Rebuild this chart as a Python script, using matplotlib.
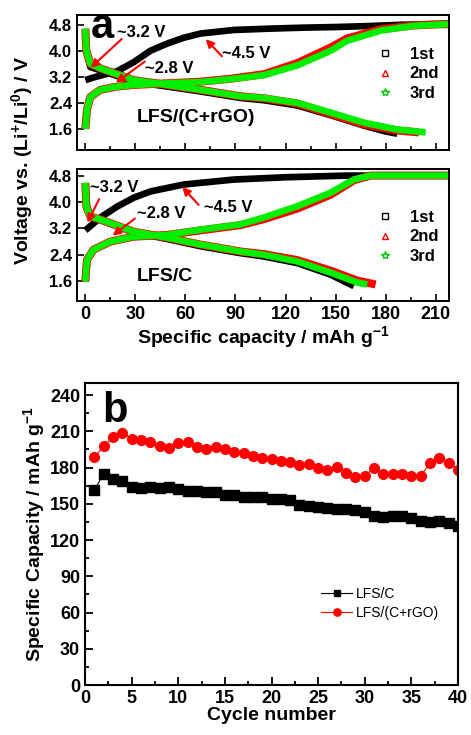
import matplotlib
matplotlib.use("Agg")
import matplotlib.pyplot as plt
from matplotlib.ticker import MultipleLocator
from matplotlib.lines import Line2D

plt.rcParams['font.family'] = ['Liberation Sans', 'DejaVu Sans']
plt.rcParams['mathtext.fontset'] = 'custom'
plt.rcParams['mathtext.rm'] = 'Liberation Sans:bold'
plt.rcParams['mathtext.bf'] = 'Liberation Sans:bold'
plt.rcParams['mathtext.default'] = 'bf'

# ---------------- Panel a data: LFS/(C+rGO) ----------------
rgo_ch1_cap = [0, 5, 10, 19, 29, 39, 49, 59, 69, 89, 110, 130, 150, 170, 190, 210, 218]
rgo_ch1_v = [3.1, 3.18, 3.25, 3.37, 3.65, 4.0, 4.22, 4.4, 4.53, 4.64, 4.68, 4.71, 4.73, 4.76, 4.8, 4.82, 4.83]
rgo_dis1_cap = [0, 1, 3, 9, 29, 49, 69, 93, 107, 127, 147, 167, 180, 187]
rgo_dis1_v = [4.6, 3.9, 3.5, 3.4, 3.05, 2.9, 2.75, 2.55, 2.48, 2.32, 2.02, 1.7, 1.52, 1.45]
rgo_ch2_cap = [0, 0.5, 1, 3, 9, 19, 29, 49, 69, 87, 107, 127, 147, 157, 177, 197, 210, 218]
rgo_ch2_v = [1.6, 1.9, 2.2, 2.58, 2.8, 2.9, 2.95, 3.0, 3.05, 3.14, 3.28, 3.62, 4.1, 4.38, 4.66, 4.78, 4.81, 4.82]
rgo_dis2_cap = [0, 0.6, 3, 9, 29, 49, 69, 93, 107, 127, 147, 167, 187, 200]
rgo_dis2_v = [4.68, 4.0, 3.6, 3.46, 3.1, 2.95, 2.8, 2.6, 2.54, 2.38, 2.06, 1.74, 1.55, 1.49]
rgo_ch3_cap = [0, 0.5, 1, 3, 9, 19, 29, 49, 69, 87, 107, 127, 147, 157, 177, 197, 210, 218]
rgo_ch3_v = [1.6, 1.9, 2.2, 2.58, 2.8, 2.9, 2.95, 3.0, 3.04, 3.13, 3.25, 3.55, 4.0, 4.31, 4.62, 4.77, 4.8, 4.82]
rgo_dis3_cap = [0, 0.6, 3, 9, 29, 49, 69, 93, 107, 127, 147, 167, 187, 204]
rgo_dis3_v = [4.68, 4.0, 3.6, 3.46, 3.1, 2.95, 2.8, 2.6, 2.55, 2.4, 2.1, 1.79, 1.58, 1.49]

# ---------------- Panel a data: LFS/C ----------------
c_ch1_cap = [0, 9, 19, 29, 39, 59, 89, 120, 157, 218]
c_ch1_v = [3.14, 3.53, 3.86, 4.13, 4.32, 4.53, 4.68, 4.75, 4.8, 4.8]
c_dis1_cap = [0, 1, 3, 9, 29, 49, 69, 93, 107, 127, 147, 161]
c_dis1_v = [4.55, 3.85, 3.55, 3.45, 3.08, 2.88, 2.66, 2.45, 2.35, 2.15, 1.8, 1.45]
c_ch2_cap = [0, 0.5, 1, 5, 15, 29, 49, 69, 93, 107, 127, 147, 161, 171, 218]
c_ch2_v = [1.59, 1.95, 2.25, 2.56, 2.8, 2.95, 3.0, 3.14, 3.3, 3.48, 3.8, 4.22, 4.66, 4.8, 4.8]
c_dis2_cap = [0, 0.6, 3, 9, 29, 49, 69, 93, 107, 127, 147, 163, 174]
c_dis2_v = [4.58, 3.86, 3.56, 3.47, 3.1, 2.92, 2.71, 2.5, 2.42, 2.24, 1.92, 1.62, 1.5]
c_ch3_cap = [0, 0.5, 1, 5, 15, 29, 49, 69, 93, 107, 127, 147, 161, 171, 218]
c_ch3_v = [1.59, 1.95, 2.25, 2.56, 2.8, 2.95, 3.0, 3.16, 3.32, 3.53, 3.87, 4.28, 4.68, 4.8, 4.8]
c_dis3_cap = [0, 0.6, 3, 9, 29, 49, 69, 93, 107, 127, 147, 163, 169]
c_dis3_v = [4.58, 3.86, 3.56, 3.47, 3.1, 2.92, 2.71, 2.5, 2.4, 2.2, 1.86, 1.56, 1.5]

cycle_labels = ['1st', '2nd', '3rd']
a_xticks = [0, 30, 60, 90, 120, 150, 180, 210]
a_yticks = [1.6, 2.4, 3.2, 4.0, 4.8]

# ---------------- Panel b data ----------------
cycles = list(range(1, 41))
cap_c = [161.4, 174.7, 170.2, 168.9, 164.0, 163.3, 163.5, 163.3, 163.5, 162.3,
         160.3, 161.0, 160.0, 159.5, 157.6, 157.0, 155.4, 155.7, 155.7, 154.0,
         154.0, 153.0, 149.3, 148.2, 147.0, 146.2, 146.0, 145.4, 145.2, 143.5,
         140.0, 139.4, 140.0, 140.3, 138.2, 136.0, 134.7, 136.0, 133.8, 131.6]
cap_rgo = [188.5, 197.8, 205.0, 209.0, 204.0, 203.0, 201.0, 198.0, 196.0, 200.0,
           201.0, 197.0, 195.6, 197.0, 195.0, 193.0, 191.8, 189.6, 188.0, 187.0,
           185.7, 184.6, 182.4, 183.2, 179.4, 178.0, 180.5, 175.8, 172.0, 173.3,
           179.6, 175.0, 175.0, 174.4, 173.0, 173.0, 184.0, 188.0, 183.8, 178.0]
b_series = ['LFS/C', 'LFS/(C+rGO)']

W, H = 471, 735
fig = plt.figure(figsize=(W / 100, H / 100), dpi=100)

def frac(x0, y0, x1, y1):
    return [x0 / W, 1 - y1 / H, (x1 - x0) / W, (y1 - y0) / H]

ax1 = fig.add_axes(frac(77, 15, 449, 150))
ax2 = fig.add_axes(frac(77, 169, 449, 301))
ax3 = fig.add_axes(frac(85, 383, 458, 685))

tickfont = dict(fontsize=12, fontweight='bold')

def style_a(ax, ylim, show_x):
    ax.set_xlim(-5, 218)
    ax.set_ylim(*ylim)
    ax.set_xticks(a_xticks)
    ax.xaxis.set_minor_locator(MultipleLocator(15))
    ax.set_yticks(a_yticks)
    ax.tick_params(direction='in', which='both', top=False, right=False, width=1.2)
    ax.tick_params(which='major', length=5)
    ax.tick_params(which='minor', length=3)
    for s in ax.spines.values():
        s.set_linewidth(1.4)
    ax.set_yticklabels([f'{t:.1f}' for t in a_yticks], **tickfont)
    if show_x:
        ax.set_xticklabels([str(t) for t in a_xticks], fontsize=13, fontweight='bold')
    else:
        ax.set_xticklabels([])

def draw_set(ax, sets):
    colors = ['black', 'red', '#00ee00']
    lws = [4.8, 5.8, 4.8]
    for (cc, cv, dc, dv), col, lw in zip(sets, colors, lws):
        ax.plot(cc, cv, color=col, lw=lw, solid_capstyle='butt', zorder=2)
        ax.plot(dc, dv, color=col, lw=lw, solid_capstyle='butt', zorder=2)

draw_set(ax1, [(rgo_ch1_cap, rgo_ch1_v, rgo_dis1_cap, rgo_dis1_v),
               (rgo_ch2_cap, rgo_ch2_v, rgo_dis2_cap, rgo_dis2_v),
               (rgo_ch3_cap, rgo_ch3_v, rgo_dis3_cap, rgo_dis3_v)])
draw_set(ax2, [(c_ch1_cap, c_ch1_v, c_dis1_cap, c_dis1_v),
               (c_ch2_cap, c_ch2_v, c_dis2_cap, c_dis2_v),
               (c_ch3_cap, c_ch3_v, c_dis3_cap, c_dis3_v)])
style_a(ax1, (0.95, 5.1), False)
style_a(ax2, (1.0, 5.0), True)

# legends for panel a
handles = [Line2D([], [], ls='none', marker='s', mfc='none', mec='black', ms=5),
           Line2D([], [], ls='none', marker='^', mfc='none', mec='red', ms=5),
           Line2D([], [], ls='none', marker='*', mfc='none', mec='#00cc00', ms=6)]
for ax, ya in ((ax1, 0.563), (ax2, 0.485)):
    ax.legend(handles, cycle_labels, loc='center left', bbox_to_anchor=(0.76, ya),
              frameon=False, prop=dict(size=12, weight='bold'), handlelength=1.2,
              handletextpad=0.9, labelspacing=0.25)

# annotations
def arrow(ax, txt, xytext, xy, tpos):
    ax.annotate('', xy=xy, xytext=xytext,
                arrowprops=dict(arrowstyle='-|>', color='red', lw=1.5, mutation_scale=12), zorder=5)
    ax.text(tpos[0], tpos[1], txt, fontsize=12, fontweight='bold', va='center', ha='left', zorder=5)

arrow(ax1, '~3.2 V', (23, 4.42), (2, 3.42), (19, 4.56))
arrow(ax1, '~2.8 V', (37, 3.72), (17, 2.97), (36, 3.46))
arrow(ax1, '~4.5 V', (83, 3.77), (71, 4.42), (82, 3.92))
arrow(ax2, '~3.2 V', (9, 4.16), (0.5, 3.3), (3, 4.45))
arrow(ax2, '~2.8 V', (31, 3.55), (15, 2.93), (31, 3.64))
arrow(ax2, '~4.5 V', (69, 3.85), (57, 4.52), (71, 3.84))

ax1.text(3, 4.72, 'a', fontsize=30, fontweight='bold', va='center', ha='left')
ax1.text(31, 1.95, 'LFS/(C+rGO)', fontsize=14, fontweight='bold', va='center', ha='left')
ax2.text(31, 1.75, 'LFS/C', fontsize=14, fontweight='bold', va='center', ha='left')

fig.text(22 / W, 1 - 160 / H, 'Voltage vs. (Li$^{+}$/Li$^{0}$) / V', rotation=90,
         fontsize=14, fontweight='bold', ha='center', va='center')
ax2.set_xlabel('Specific capacity / mAh g$^{-1}$', fontsize=14, fontweight='bold', labelpad=1)

# ---------------- Panel b ----------------
ax3.plot(cycles, cap_c, color='black', marker='s', ms=6.5, lw=0.8, label=b_series[0])
ax3.plot(cycles, cap_rgo, color='red', marker='o', ms=7, lw=0.8, label=b_series[1])
ax3.set_xlim(0, 40)
ax3.set_ylim(0, 250)
ax3.set_xticks(range(0, 41, 5))
ax3.xaxis.set_minor_locator(MultipleLocator(2.5))
ax3.set_yticks(range(0, 241, 30))
ax3.yaxis.set_minor_locator(MultipleLocator(15))
ax3.tick_params(direction='in', which='both', top=False, right=False, width=1.3)
ax3.tick_params(which='major', length=6)
ax3.tick_params(which='minor', length=3)
for s in ax3.spines.values():
    s.set_linewidth(1.5)
ax3.set_xticklabels([str(t) for t in range(0, 41, 5)], fontsize=13, fontweight='bold')
ax3.set_yticklabels([str(t) for t in range(0, 241, 30)], fontsize=13, fontweight='bold')
ax3.set_xlabel('Cycle number', fontsize=14, fontweight='bold', labelpad=0)
ax3.set_ylabel('Specific Capacity / mAh g$^{-1}$', fontsize=14, fontweight='bold', labelpad=2)
ax3.legend(loc='center left', bbox_to_anchor=(0.6, 0.27), frameon=False, fontsize=10,
           handlelength=2.2, handletextpad=0.3, labelspacing=0.4, markerscale=0.75)
ax3.text(1.8, 227, 'b', fontsize=30, fontweight='bold', va='center', ha='left')

fig.savefig('out.png', dpi=100)
